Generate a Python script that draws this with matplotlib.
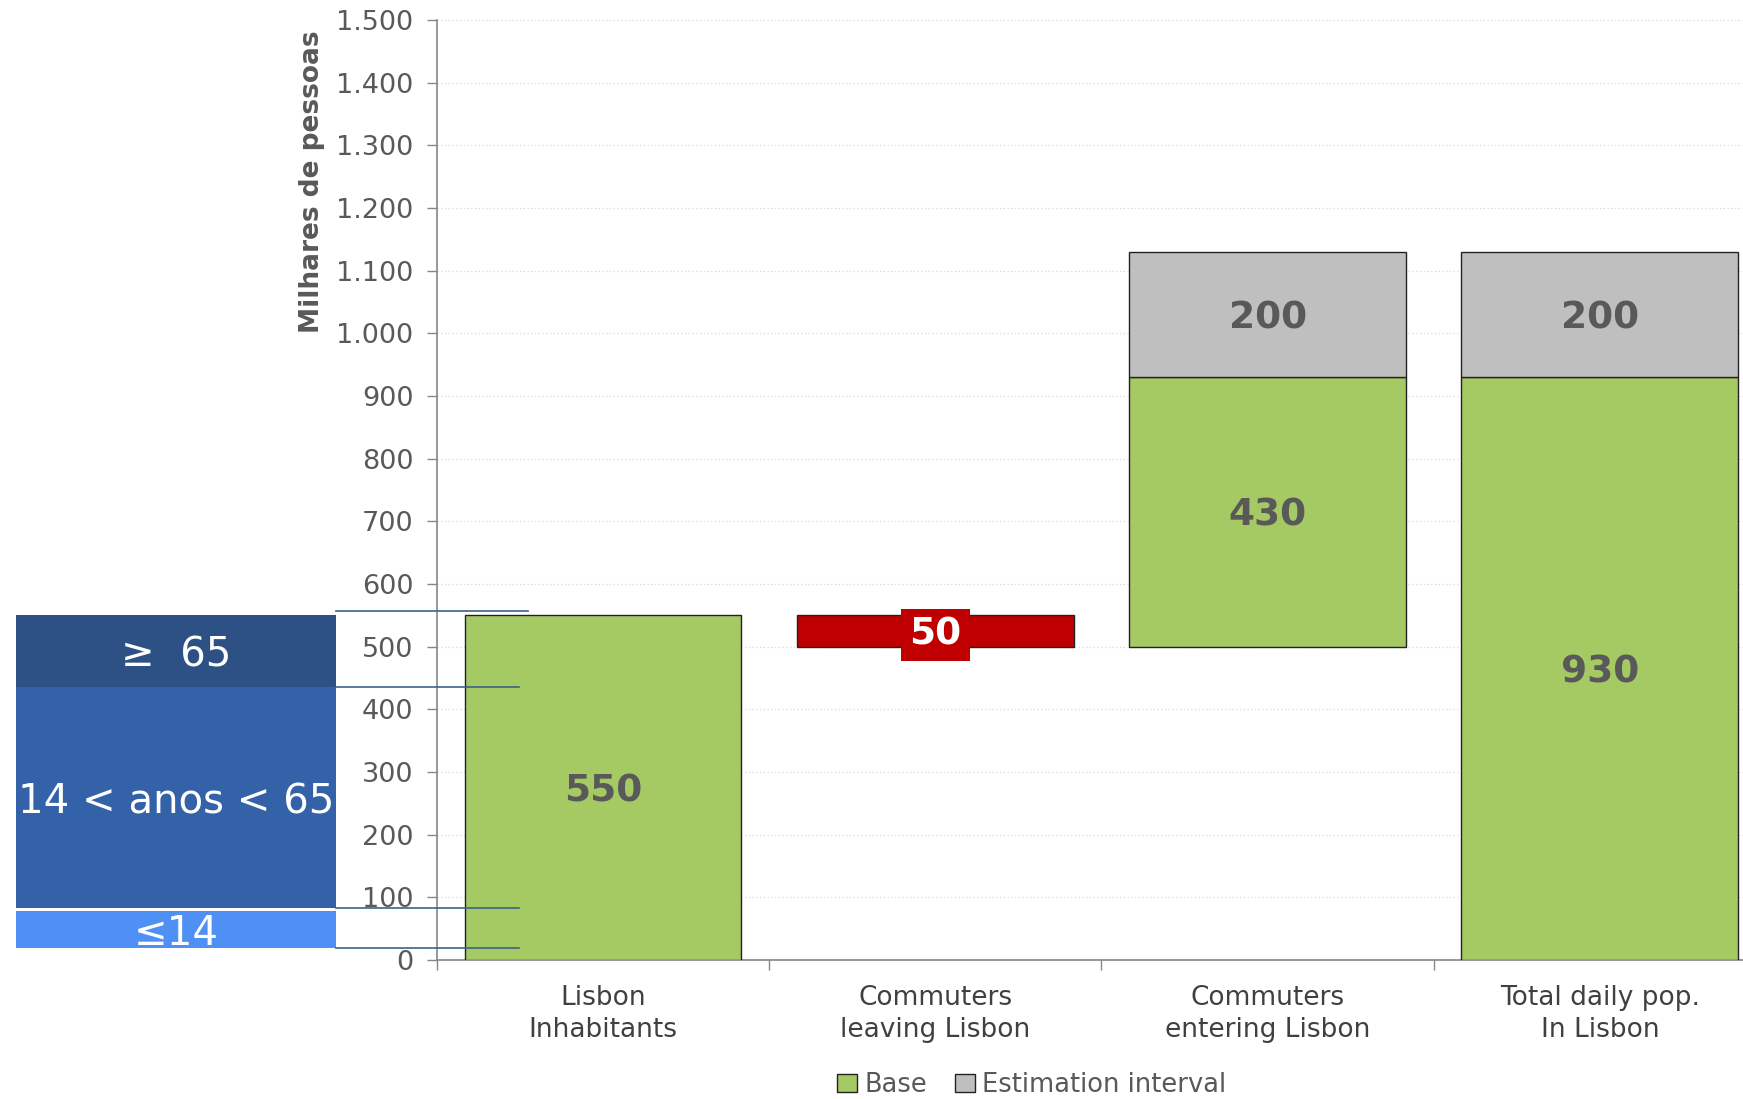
import matplotlib
matplotlib.use("Agg")
import matplotlib.pyplot as plt
from matplotlib.patches import Rectangle
from matplotlib.ticker import FuncFormatter, FixedLocator

# chart values (milhares de pessoas)
categories = ["Lisbon\nInhabitants", "Commuters\nleaving Lisbon",
              "Commuters\nentering Lisbon", "Total daily pop.\nIn Lisbon"]
inhabitants = 550
leaving = 50
entering = 430
interval = 200
total = inhabitants - leaving + entering

# age split drawn to the left of the axis
age_labels = ["\u2264" + "14", "14 < anos < 65", "\u2265  65"]
age_low = [19.7, 83.5, 435]
age_high = [78, 435, 550]
age_colors = ["#4f90f5", "#3462a9", "#2d5184"]
age_lines = [19.7, 83.5, 435, 557]

green = "#a5c963"
grey = "#bfbfbf"
red = "#c00000"
txt = "#595959"

plt.rcParams["font.family"] = ["DejaVu Sans"]

fig = plt.figure(figsize=(17.43, 10.99), dpi=100)
ax = fig.add_axes([0.2507, 0.1265, 0.7625, 0.8553])

x = range(len(categories))
w = 0.833
base_bottom = [0, inhabitants - leaving, inhabitants - leaving, 0]
base_height = [inhabitants, 0, entering, total]
est_height = [0, 0, interval, interval]

ax.bar([0, 2, 3], [base_height[i] for i in (0, 2, 3)], w,
       bottom=[base_bottom[i] for i in (0, 2, 3)],
       color=green, edgecolor="#222222", linewidth=1, label="Base", zorder=3)
ax.bar([2, 3], [est_height[i] for i in (2, 3)], w,
       bottom=[base_bottom[i] + base_height[i] for i in (2, 3)],
       color=grey, edgecolor="#222222", linewidth=1,
       label="Estimation interval", zorder=3)
ax.bar([1], [leaving], w, bottom=[inhabitants - leaving], color=red,
       edgecolor="#222222", linewidth=1, zorder=3)

# labels inside bars
lbl = dict(ha="center", va="center_baseline", fontsize=27, fontweight="bold",
           color=txt, zorder=5)
ax.text(0, inhabitants / 2, f"{inhabitants}", **lbl)
ax.text(2, base_bottom[2] + entering / 2, f"{entering}", **lbl)
ax.text(2, base_bottom[2] + entering + interval / 2, f"{interval}", **lbl)
ax.text(3, total / 2, f"{total}", **lbl)
ax.text(3, total + interval / 2, f"{interval}", **lbl)
ax.text(1, inhabitants - leaving / 2, f"{leaving}", ha="center", va="center_baseline",
        fontsize=27, fontweight="bold", color="white", zorder=5,
        bbox=dict(boxstyle="square,pad=0.22", facecolor=red, edgecolor="none"))

ax.set_xlim(-0.5, 3.5)
ax.set_ylim(0, 1500)
ax.set_yticks(range(0, 1501, 100))
ax.yaxis.set_major_formatter(FuncFormatter(lambda v, p: f"{int(v):,}".replace(",", ".")))
ax.tick_params(axis="y", labelsize=19.5, labelcolor=txt, color="#868686",
               length=7, width=1, pad=10)

ax.xaxis.set_major_locator(FixedLocator([-0.5, 0.5, 1.5, 2.5, 3.5]))
ax.xaxis.set_minor_locator(FixedLocator(list(x)))
ax.set_xticklabels([], minor=False)
ax.set_xticklabels(categories, minor=True, linespacing=1.3)
ax.tick_params(axis="x", which="major", color="#868686", length=7, width=1)
ax.tick_params(axis="x", which="minor", length=0, labelsize=19, labelcolor="#404040", pad=18)

for s in ["top", "right"]:
    ax.spines[s].set_visible(False)
for s in ["left", "bottom"]:
    ax.spines[s].set_color("#868686")
    ax.spines[s].set_linewidth(1.2)

ax.yaxis.grid(True, linestyle=(0, (1, 2)), color="#d9d9d9", linewidth=0.9)
ax.set_axisbelow(True)

# age boxes left of the axis
box_left, box_right = -1.767, -0.804
for lo, hi, c, t in zip(age_low, age_high, age_colors, age_labels):
    ax.add_patch(Rectangle((box_left, lo), box_right - box_left, hi - lo,
                           facecolor=c, edgecolor="none", clip_on=False, zorder=2))
    ax.text((box_left + box_right) / 2, (lo + hi) / 2, t, ha="center",
            va="center_baseline", fontsize=29, color="white", clip_on=False, zorder=4)
for i, y in enumerate(age_lines):
    x_end = -0.226 if i == len(age_lines) - 1 else -0.253
    ax.plot([box_right, x_end], [y, y], color="#3b6487", linewidth=1.2,
            clip_on=False, zorder=4)

fig.text(0.179, 0.972, "Milhares de pessoas", rotation=90, ha="center", va="top",
         fontsize=19, fontweight="bold", color=txt)

fig.legend(loc="center", bbox_to_anchor=(0.592, 0.0127), ncol=2, frameon=False,
           fontsize=18.5, labelcolor=txt, handlelength=0.75, handleheight=0.75,
           handletextpad=0.3, columnspacing=1.1, borderpad=0)

fig.savefig("out.png", dpi=100)
